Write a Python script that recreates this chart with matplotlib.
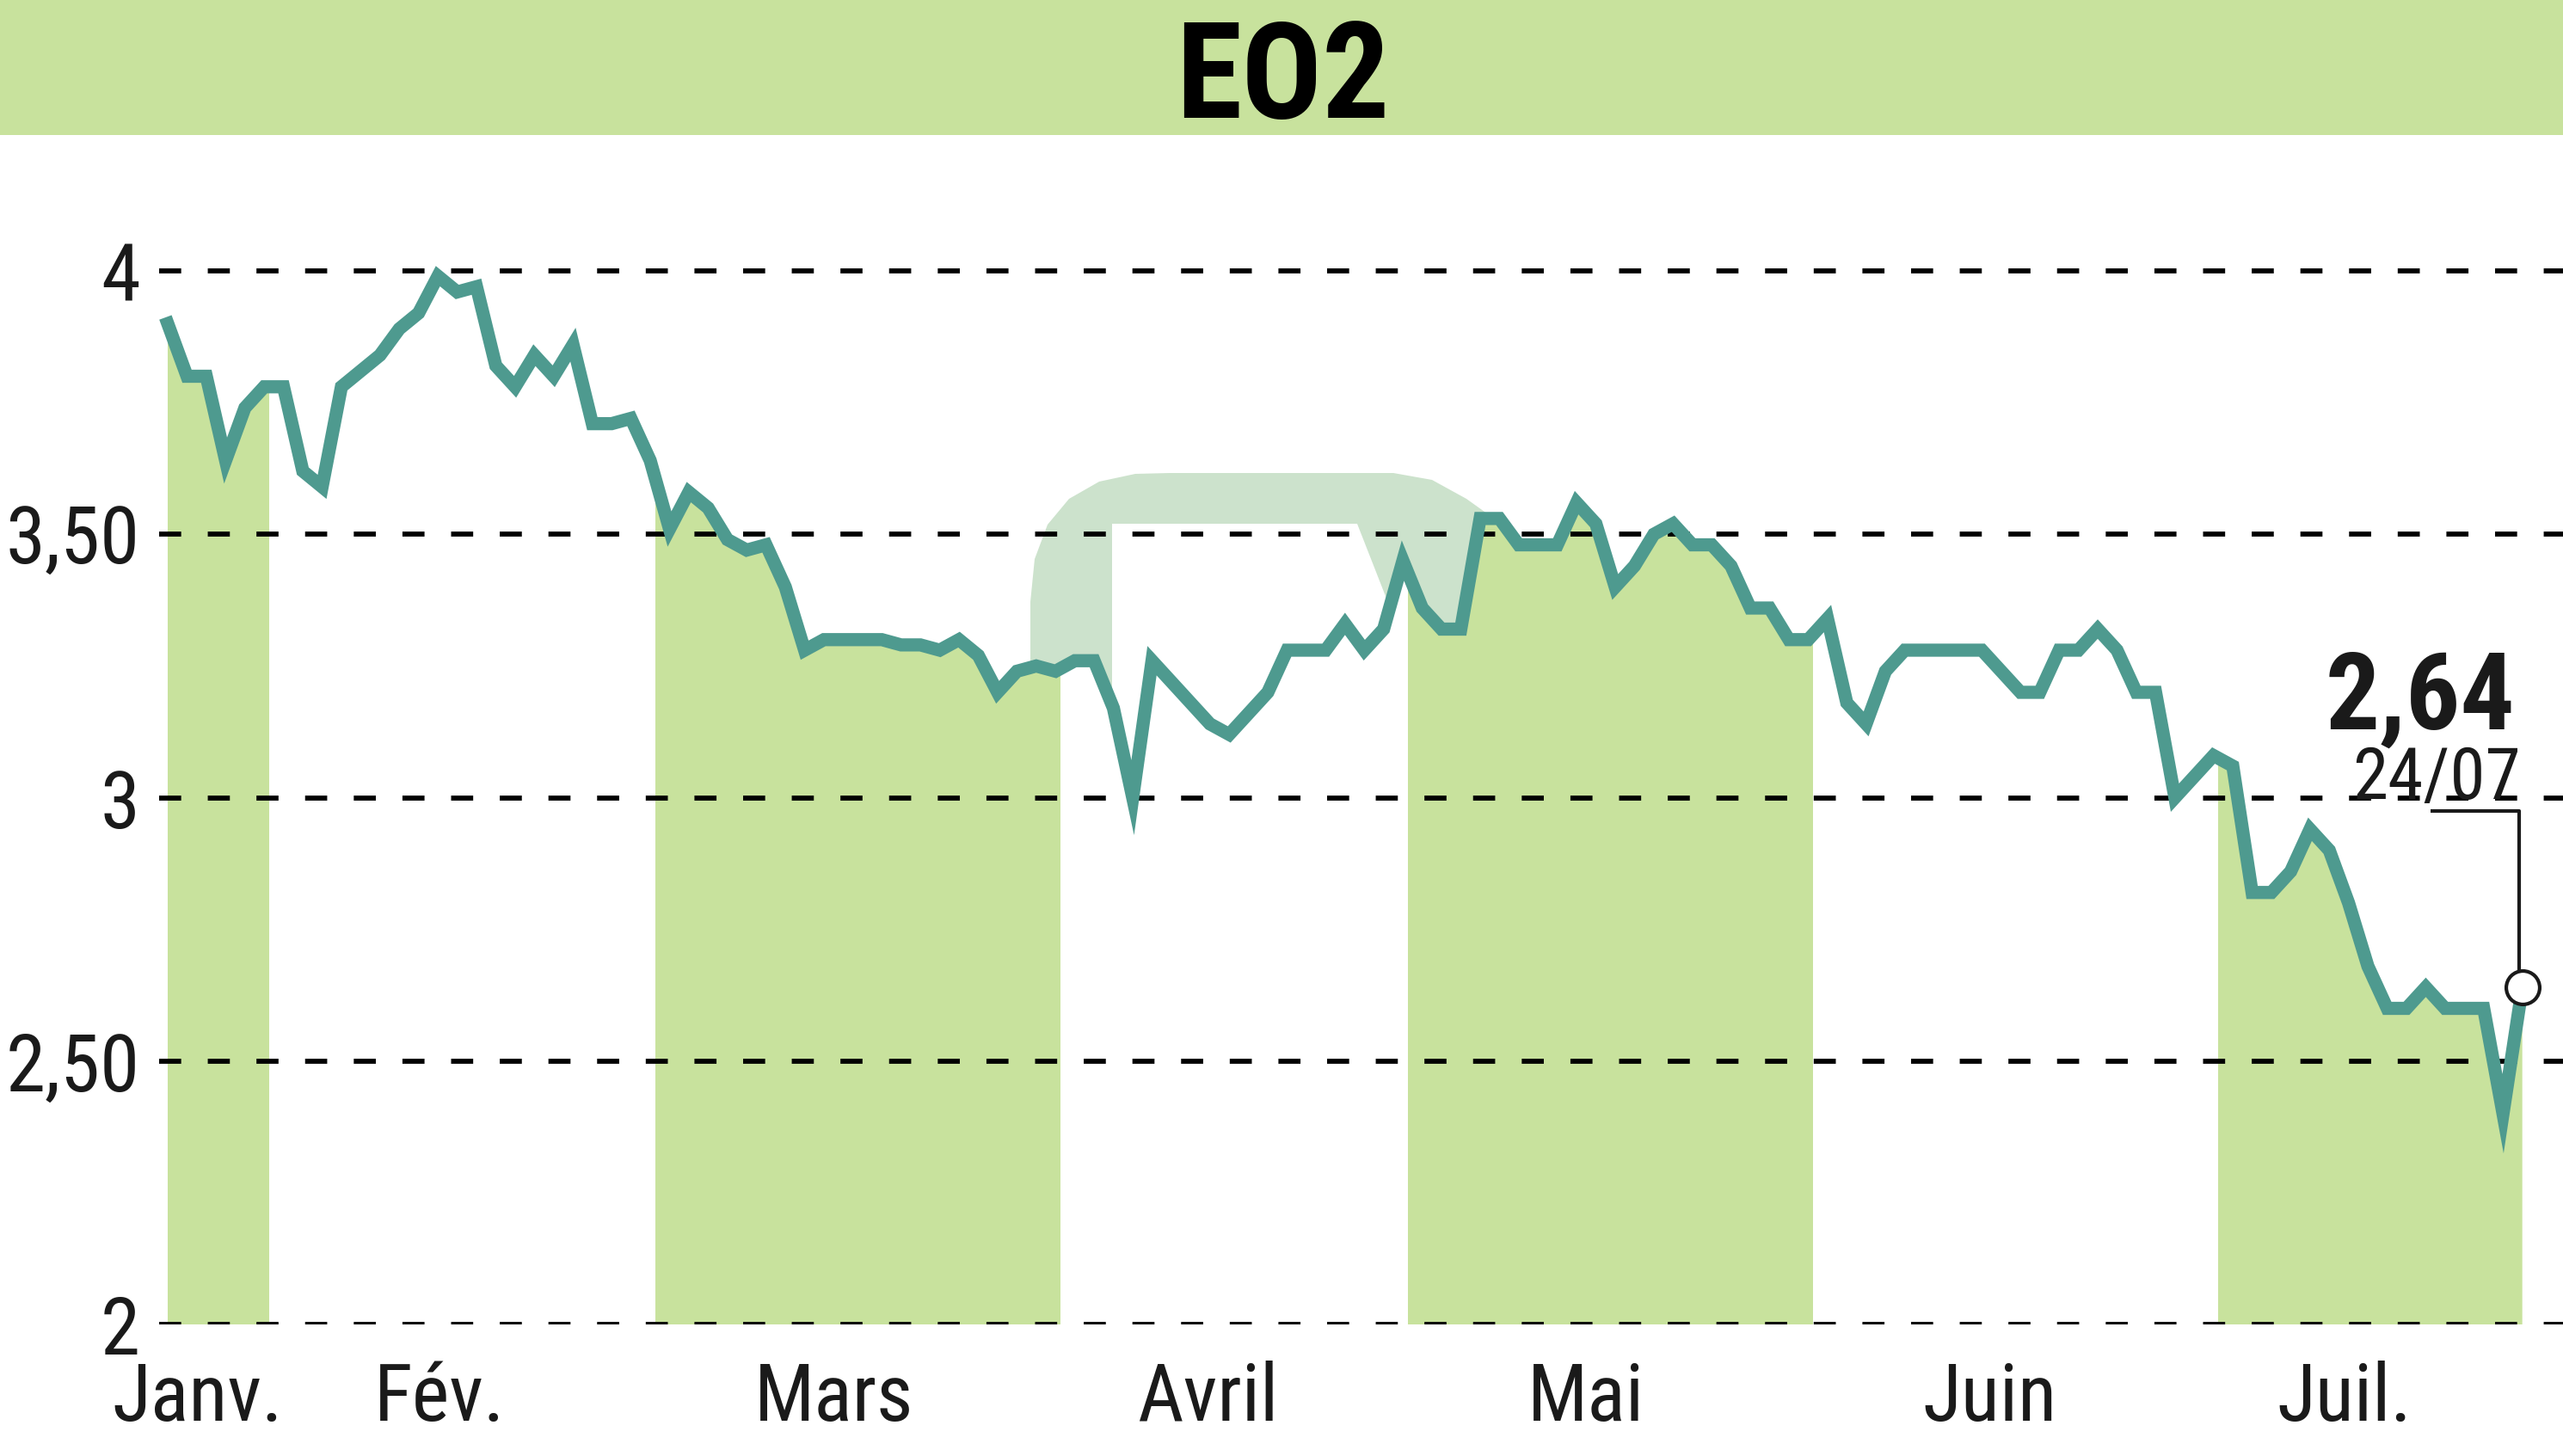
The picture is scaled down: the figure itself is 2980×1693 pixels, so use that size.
import os
import numpy as np
import matplotlib
matplotlib.use('Agg')
import matplotlib.pyplot as plt
from matplotlib import font_manager as fm
from matplotlib.patches import Rectangle, Polygon
from matplotlib.transforms import Affine2D

W, H = 2980, 1693

# daily closing prices, 24/01 -> 24/07 (one value per session)
prices = [3.90, 3.80, 3.80, 3.64, 3.74, 3.78, 3.78, 3.62, 3.59, 3.78,
          3.81, 3.84, 3.89, 3.92, 3.99, 3.96, 3.97, 3.82, 3.78, 3.84,
          3.80, 3.86, 3.71, 3.71, 3.72, 3.64, 3.51, 3.58, 3.55, 3.49,
          3.47, 3.48, 3.40, 3.28, 3.30, 3.30, 3.30, 3.30, 3.29, 3.29,
          3.28, 3.30, 3.27, 3.20, 3.24, 3.25, 3.24, 3.26, 3.26, 3.17,
          3.00, 3.26, 3.22, 3.18, 3.14, 3.12, 3.16, 3.20, 3.28, 3.28,
          3.28, 3.33, 3.28, 3.32, 3.45, 3.36, 3.32, 3.32, 3.53, 3.53,
          3.48, 3.48, 3.48, 3.56, 3.52, 3.40, 3.44, 3.50, 3.52, 3.48,
          3.48, 3.44, 3.36, 3.36, 3.30, 3.30, 3.34, 3.18, 3.14, 3.24,
          3.28, 3.28, 3.28, 3.28, 3.28, 3.24, 3.20, 3.20, 3.28, 3.28,
          3.32, 3.28, 3.20, 3.20, 3.00, 3.04, 3.08, 3.06, 2.82, 2.82,
          2.86, 2.94, 2.90, 2.80, 2.68, 2.60, 2.60, 2.64, 2.60, 2.60,
          2.60, 2.40, 2.64]

month_names = ['Janv.', 'Fév.', 'Mars', 'Avril', 'Mai', 'Juin', 'Juil.']
month_start = [0, 6, 26, 47, 65, 86, 107]       # index of first session of each month
month_label_pos = [1.56, 14.1, 34.5, 53.9, 73.5, 94.4, 112.8]

yticks = [2, 2.5, 3, 3.5, 4]
ytick_labels = ['2', '2,50', '3', '3,50', '4']

title = 'EO2'
last_label = '2,64'
last_date = '24/07'

GREEN = '#C8E29D'
LINE = '#4E9A8F'
INK = '#1a1a1a'


def find_condensed():
    # look for a narrow sans among the installed fonts
    prefs = ['NotoSans-ExtraCondensed', 'NotoSans-Condensed', 'LiberationSansNarrow',
             'RobotoCondensed', 'OpenSans-Cond', 'DejaVuSansCondensed']
    files = [f.fname for f in fm.fontManager.ttflist]
    for p in prefs:
        found = {}
        for fn in files:
            base = os.path.basename(fn)
            if base.startswith(p):
                rest = os.path.splitext(base)[0][len(p):].strip('-_ ')
                found.setdefault(rest, fn)
        reg = found.get('Regular') or found.get('') or found.get('Book') or found.get('Light')
        bold = found.get('Bold')
        if reg or bold:
            return reg or bold, bold or reg
    return None, None


reg_file, bold_file = find_condensed()
if reg_file:
    f_reg = fm.FontProperties(fname=reg_file)
    f_bold = fm.FontProperties(fname=bold_file)
    k = 1.0
else:
    f_reg = fm.FontProperties(family='DejaVu Sans')
    f_bold = fm.FontProperties(family='DejaVu Sans', weight='bold')
    k = 0.78

x = np.arange(len(prices))
y = np.array(prices)

fig = plt.figure(figsize=(W / 100, H / 100), dpi=100)
px = Affine2D().scale(1, -1).translate(0, H)   # image pixels (y down) -> display

# title band
fig.add_artist(Rectangle((0, 0), W, 157, transform=px, color=GREEN, lw=0, zorder=0))
fig.text(1492, 137, title, transform=px, ha='center', va='baseline',
         fontproperties=f_bold, fontsize=112 * k, color='black')

ax = fig.add_axes([185 / W, (H - 1540) / H, (W - 185) / W, (1540 - 160) / H])
for s in ax.spines.values():
    s.set_visible(False)

# faint logo watermark behind the fills
outer = [(1198, 1000), (1198, 700), (1203, 650), (1218, 610), (1243, 580),
         (1278, 560), (1320, 551), (1360, 550), (1620, 550), (1665, 558),
         (1705, 580), (1740, 605), (1762, 642), (1762, 1000)]
inner = [(1293, 609), (1578, 609), (1645, 780), (1645, 1000), (1293, 1000)]
ax.add_patch(Polygon(outer, closed=True, transform=px, fc='#CCE2CC', ec='none', zorder=0.5))
ax.add_patch(Polygon(inner, closed=True, transform=px, fc='white', ec='none', zorder=0.6))

# area under the curve: white, with green bands for alternate months
area = ax.fill_between(x, 2, y, color='white', lw=0, zorder=1)
clip = area.get_paths()[0]
edges = [m - 0.75 for m in month_start] + [x[-1] + 0.1]
for i in range(0, len(month_start), 2):
    span = ax.axvspan(edges[i], edges[i + 1], color=GREEN, lw=0, zorder=1.1)
    span.set_clip_path(clip, transform=ax.transData)

ax.plot(x, y, color=LINE, lw=11, solid_joinstyle='miter', zorder=3)

ax.set_xlim(-10 / 22.44, (W - 195) / 22.44)
ax.set_ylim(2, 2 + 1380 / 612.5)

ax.set_yticks(yticks, ytick_labels)
ax.set_xticks(month_label_pos, month_names)
ax.tick_params(axis='both', length=0, colors=INK)
ax.tick_params(axis='y', pad=16)
ax.tick_params(axis='x', pad=30)
for lab in ax.get_xticklabels() + ax.get_yticklabels():
    lab.set_fontproperties(f_reg)
    lab.set_fontsize(67 * k)
ax.grid(axis='y', color='black', lw=4.2, linestyle=(0, (4.4, 5.3)))
ax.grid(axis='x', visible=False)
ax.set_axisbelow(False)

# last value marker and label
xl, yl = x[-1], y[-1]
p = ax.transData.transform((xl, yl))
leader = ax.transData.inverted().transform(p + np.array([(-107, 205), (-4, 205), (-4, 19)]))
ax.plot(leader[:, 0], leader[:, 1], color=INK, lw=3, zorder=4, solid_capstyle='butt')
ax.plot(xl, yl, 'o', ms=28, mfc='white', mec=INK, mew=3, zorder=5)
ax.annotate(last_label, xy=(xl, yl), xytext=(-8, 300), textcoords='offset pixels',
            ha='right', va='baseline', fontproperties=f_bold, fontsize=90 * k, color=INK)
ax.annotate(last_date, xy=(xl, yl), xytext=(-2, 219), textcoords='offset pixels',
            ha='right', va='baseline', fontproperties=f_reg, fontsize=60 * k, color=INK)

fig.savefig('out.png', dpi=100)
